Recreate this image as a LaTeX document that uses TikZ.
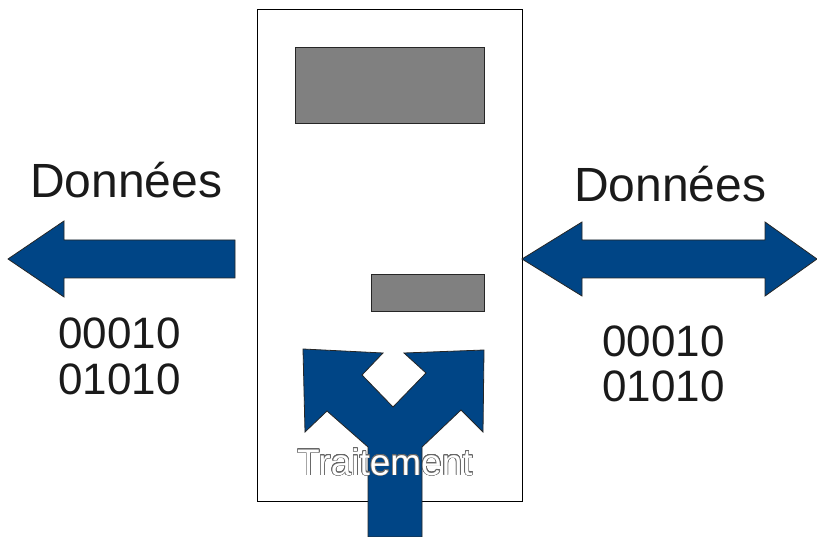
\documentclass[tikz,border=0pt]{standalone}
\usepackage{fontspec}
\setmainfont{Liberation Sans}
\usepackage{contour}
\contourlength{0.6pt}
\contournumber{24}
\definecolor{arrowblue}{HTML}{004586}
\definecolor{boxgray}{HTML}{808080}
\definecolor{txt}{HTML}{1A1A1A}
\begin{document}
\begin{tikzpicture}[x=1pt,y=-1pt,
  blockarrow/.style={fill=arrowblue,draw=black!85,line width=0.8pt,line join=miter},
  graybox/.style={fill=boxgray,draw=black!85,line width=0.8pt},
  label/.style={inner sep=0pt,anchor=base west,text=txt},
  ]
\useasboundingbox (0,0) rectangle (817,537);
% device box
\draw[fill=white,draw=black,line width=0.8pt] (257,9) rectangle (522,501);
\draw[graybox] (295,47) rectangle (484,123);
\draw[graybox] (371,274) rectangle (484,311);
% left arrow
\draw[blockarrow] (8,259) -- (64,221) -- (64,240) -- (235,240) -- (235,278) -- (64,278) -- (64,297) -- cycle;
% right double arrow
\draw[blockarrow] (522,259) -- (582,222) -- (582,240) -- (765,240) -- (765,222) -- (817,259)
  -- (765,296) -- (765,278) -- (582,278) -- (582,296) -- cycle;
% split arrow
\draw[blockarrow] (368,537) -- (368,447) -- (327,411) -- (305,432) -- (303,349) -- (383,353)
  -- (362,375) -- (393,407) -- (426,373) -- (404,353) -- (484,350) -- (483,432) -- (461,410)
  -- (422,447) -- (422,537) -- cycle;
% texts
\node[label,font=\fontsize{48}{48}\selectfont] (dl) at (30,198) {Données};
\node[label,font=\fontsize{48}{48}\selectfont] (dr) at (574,202) {Données};
\node[label,font=\fontsize{44}{44}\selectfont] (bl1) at (58,349) {00010};
\node[label,font=\fontsize{44}{44}\selectfont] (bl2) at (58,395) {01010};
\node[label,font=\fontsize{44}{44}\selectfont] (br1) at (602,356) {00010};
\node[label,font=\fontsize{44}{44}\selectfont] (br2) at (602,402) {01010};
\node[inner sep=0pt,anchor=base west,font=\fontsize{37}{37}\selectfont] (tr) at (297,475)
  {\contour{black!60}{\textcolor{white}{Traitement}}};
\end{tikzpicture}
\end{document}
